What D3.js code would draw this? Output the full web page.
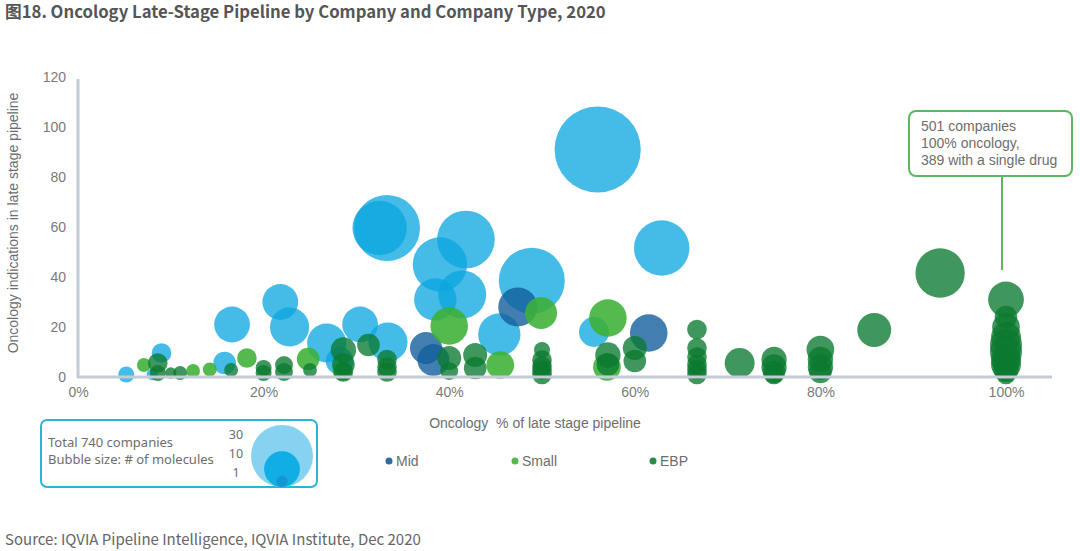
<!DOCTYPE html>
<html><head><meta charset="utf-8">
<script src="https://cdn.jsdelivr.net/npm/d3@7"></script>
<style>body{margin:0;background:#fff}svg{display:block}</style>
</head><body>
<script>
// [oncology % of late-stage pipeline, oncology indications, # molecules]
const largeData = [
  [56,91,58],[33.3,59.6,34],[32.5,59.6,23],[41.8,55,26],[39,45,23],[41.4,33,18],
  [38.5,31,14],[48.9,38.5,34],[62.9,51.6,24],[21.8,30,10],[22.8,20,12],[16.6,21,10],
  [30.4,21,10],[33.4,14,12],[26.8,13.6,12],[28.2,6.4,6],[15.8,5.6,4],[9,9.6,3],
  [5.2,1,2],[8,1,1],[45.4,17,14],[55.6,18,7]
];
const midData = [[47.4,28,12],[61.5,17.6,11],[37.5,11.6,8],[38.3,6.8,8]];
const smallData = [
  [40,20.4,11],[49.9,25.6,8],[57.1,23.6,11],[45.5,4.8,6],[57,4,6],[18.2,7.6,3],
  [7.1,4.8,1.5],[12.4,2.4,1.5],[14.2,3,1.5],[24.8,7.2,4],[28.5,2.5,3]
];
const ebpData = [
  [92.9,41.6,19],[100,31,10],[85.8,18.8,9],[80,11,6],[80,7,5],[80,4,5],[80,2,4],
  [71.3,5.6,7],[75,7,5],[75,4,5],[75,2,4],[75,1,3],
  [66.7,19,3],[66.7,11.6,3],[66.7,8,3],[66.7,5,3],[66.7,3,3],[66.7,1,3],
  [60,11.6,4.5],[60,6.4,4],[57.1,8.8,5],[57.1,5,4],
  [50,10.8,2],[50,6.8,3],[50,4.4,3],[50,2.8,3],[50,1,3],
  [42.8,8.8,4.5],[42.8,3.6,4],[40,7.6,4.5],[40,2.4,2.5],
  [33.3,7,3],[33.3,4,3],[33.3,2,3],[31.3,12.8,4],[28.6,10.8,5],[28.6,5,4],[28.6,2,3],
  [25,2.8,1.5],[22.2,4.8,2.5],[22.2,2,2.5],[20,3.6,2],[20,1.6,2],[16.5,2.8,1.5],
  [11,1.6,1.5],[10,1.6,1],[8.6,5.6,3],[8.6,1.6,2],
  [100,24,4],[100,20,6],[100,16,7],[100,13,8],[100,10,8],[100,7,7],[100,5,7],[100,3,5],[100,1,3]
];
const xTicks = [0,20,40,60,80,100];
const yTicks = [0,20,40,60,80,100,120];
const legendSeries = ["Mid","Small","EBP"];
const sizeLegend = [30,10,1];

const W=1080,H=551;
const svg=d3.select("body").append("svg").attr("width",W).attr("height",H);
const x=d3.scaleLinear().domain([0,100]).range([78,1006]);
const y=d3.scaleLinear().domain([0,120]).range([377,77]);
const r=d3.scaleSqrt().domain([0,30]).range([0,31]);
const gray="#6d6d6d";
const sans="'Liberation Sans',Arial";

svg.append("text").attr("x",5).attr("y",18).attr("font-family","'Noto Sans CJK SC'")
  .attr("font-weight","bold").attr("font-size",16.7).attr("fill","#555")
  .text("图18. Oncology Late-Stage Pipeline by Company and Company Type, 2020");

// bubbles
const series=[
  {data:largeData,color:"#0aa5e0",op:0.76},
  {data:midData,color:"#135f9c",op:0.8},
  {data:smallData,color:"#3cb034",op:0.88},
  {data:ebpData,color:"#0a7a30",op:0.78}
];
series.forEach(s=>{
  svg.append("g").selectAll("circle").data(s.data).join("circle")
    .attr("cx",d=>x(d[0])).attr("cy",d=>y(d[1])).attr("r",d=>r(d[2]))
    .attr("fill",s.color).attr("fill-opacity",s.op);
});

// axes
const axisColor="#c3ccd4";
const xAxis=svg.append("g").attr("transform","translate(0,377)")
  .call(d3.axisBottom(x).tickValues(xTicks).tickFormat(d=>d+"%").tickSize(0).tickPadding(10));
xAxis.select(".domain").remove();
xAxis.selectAll("text").attr("font-family",sans).attr("font-size",14).attr("fill","#7a7a7a");
svg.append("line").attr("x1",77).attr("x2",1052).attr("y1",377).attr("y2",377).attr("stroke",axisColor).attr("stroke-width",3);
const yAxis=svg.append("g").attr("transform","translate(66,0)")
  .call(d3.axisLeft(y).tickValues(yTicks).tickSize(0).tickPadding(0));
yAxis.select(".domain").remove();
yAxis.selectAll("text").attr("font-family",sans).attr("font-size",14).attr("fill","#7a7a7a");
svg.append("line").attr("x1",78).attr("x2",78).attr("y1",79).attr("y2",378).attr("stroke",axisColor).attr("stroke-width",3);

svg.append("text").attr("x",535).attr("y",428).attr("text-anchor","middle")
  .attr("font-family",sans).attr("font-size",14).attr("fill",gray)
  .attr("xml:space","preserve").text("Oncology  % of late stage pipeline");
svg.append("text").attr("transform","translate(18,223) rotate(-90)").attr("text-anchor","middle")
  .attr("font-family",sans).attr("font-size",14).attr("fill",gray)
  .text("Oncology indications in late stage pipeline");

// annotation
svg.append("rect").attr("x",909).attr("y",111).attr("width",163).attr("height",65).attr("rx",7)
  .attr("fill","#fff").attr("stroke","#5cb85c").attr("stroke-width",2);
svg.append("line").attr("x1",1002).attr("x2",1002).attr("y1",177).attr("y2",270).attr("stroke","#5cb85c").attr("stroke-width",2);
["501 companies","100% oncology,","389 with a single drug"].forEach((t,i)=>{
  svg.append("text").attr("x",921).attr("y",131+i*17).attr("font-family",sans)
    .attr("font-size",14).attr("fill",gray).text(t);
});

// size legend
svg.append("rect").attr("x",41).attr("y",420).attr("width",276).attr("height",67).attr("rx",6)
  .attr("fill","#fff").attr("stroke","#2cb4d6").attr("stroke-width",2);
svg.append("text").attr("x",48).attr("y",447).attr("font-family","'Noto Sans'").attr("font-size",13).attr("fill",gray).text("Total 740 companies");
svg.append("text").attr("x",48).attr("y",464).attr("font-family","'Noto Sans'").attr("font-size",13).attr("fill",gray).text("Bubble size: # of molecules");
const lgColors={30:"#86d3f1",10:"#10aee4",1:"#1496d4"};
const base=487;
sizeLegend.forEach((v,i)=>{
  svg.append("circle").attr("cx",282).attr("cy",base-r(v)).attr("r",r(v)).attr("fill",lgColors[v]);
  svg.append("text").attr("x",236).attr("y",439+i*19).attr("text-anchor","middle")
    .attr("font-family","'Noto Sans'").attr("font-size",12.5).attr("fill",gray).text(v);
});

// series legend
const legColors={Mid:"#2c6c9e",Small:"#56b84e",EBP:"#2b8a4e"};
const legX={Mid:389,Small:515,EBP:653};
legendSeries.forEach(k=>{
  svg.append("circle").attr("cx",legX[k]).attr("cy",461).attr("r",3.5).attr("fill",legColors[k]);
  svg.append("text").attr("x",legX[k]+7).attr("y",466).attr("font-family",sans)
    .attr("font-size",14).attr("fill",gray).text(k);
});

svg.append("text").attr("x",5).attr("y",545).attr("font-family","'Noto Sans CJK SC'").attr("font-size",15)
  .attr("fill","#666").text("Source: IQVIA Pipeline Intelligence, IQVIA Institute, Dec 2020");
</script>
</body></html>
